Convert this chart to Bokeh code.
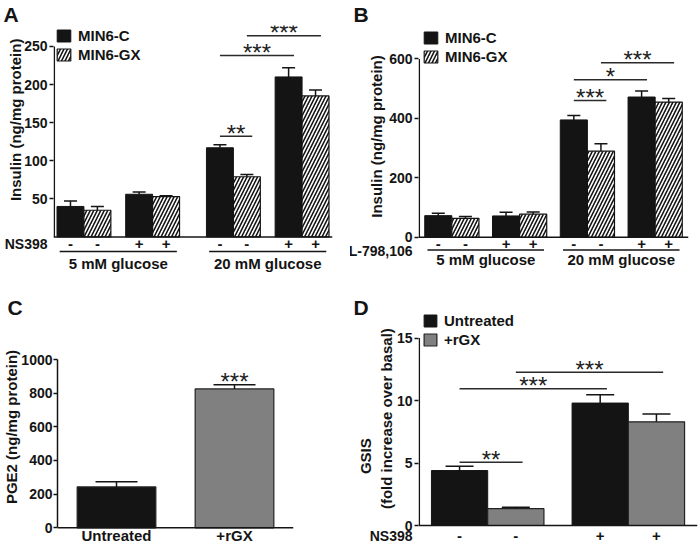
import math
from bokeh.plotting import figure
from bokeh.models import FactorRange, Range1d, FixedTicker, Span, Legend, LegendItem
from bokeh.layouts import row, column
from bokeh.core.properties import value
from bokeh.embed import file_html
from bokeh.resources import INLINE

FONT = "Liberation Sans"
INK = "#141414"
GREY = "#808080"
NBSP = "\u00a0"

# ---------------- data ----------------
# Panel A
A_glucose = ["5 mM glucose", "20 mM glucose"]
A_drug = ["-", "+"]
A_cells = ["MIN6-C", "MIN6-GX"]
A_c_mean = [40, 56, 117, 210]
A_c_sem = [7, 3, 4, 12]
A_gx_mean = [35, 53, 79, 185]
A_gx_sem = [5, 1, 3, 8]
A_ticks = [50, 100, 150, 200, 250]
A_sig_from = [4, 4, 5]
A_sig_to = [5, 6, 7]
A_sig_level = [132, 238, 264]
A_sig_text = ["**", "***", "***"]

# Panel B
B_glucose = ["5 mM glucose", "20 mM glucose"]
B_drug = ["-", "+"]
B_cells = ["MIN6-C", "MIN6-GX"]
B_c_mean = [73, 72, 395, 472]
B_c_sem = [8, 12, 15, 20]
B_gx_mean = [64, 78, 290, 455]
B_gx_sem = [6, 7, 25, 12]
B_ticks = [0, 200, 400, 600]
B_sig_from = [4, 4, 5]
B_sig_to = [5, 6, 7]
B_sig_level = [460, 530, 587]
B_sig_text = ["***", "*", "***"]

# Panel C
C_groups = ["Untreated", "+rGX"]
C_mean = [243, 825]
C_sem = [30, 25]
C_ticks = [0, 200, 400, 600, 800, 1000]
C_sig_text = ["", "***"]

# Panel D
D_drug = ["-", "+"]
D_treat = ["Untreated", "+rGX"]
D_untr_mean = [4.4, 9.8]
D_untr_sem = [0.35, 0.67]
D_rgx_mean = [1.35, 8.3]
D_rgx_sem = [0.12, 0.62]
D_ticks = [0, 5, 10, 15]
D_sig_from = [0, 0, 1]
D_sig_to = [1, 2, 3]
D_sig_level = [5.07, 10.95, 12.27]
D_sig_text = ["**", "***", "***"]


# ---------------- helpers ----------------
def synth(factors, group_pad, sub_pad=0.0, factor_pad=0.0):
    """Synthetic centre of every factor, same rule as Bokeh's FactorRange."""
    pos, prev, out = 0.0, None, []
    for f in factors:
        if prev is not None:
            if f[0] != prev[0]:
                pos += group_pad
            elif len(f) > 2 and f[1] != prev[1]:
                pos += sub_pad
            else:
                pos += factor_pad
        out.append(pos + 0.5)
        pos += 1.0
        prev = f
    return out, pos


def tkw(size="15px", bold=True, color=INK):
    return dict(text_font=value(FONT), text_font_size=size,
                text_font_style="bold" if bold else "normal", text_color=color)


STAR = dict(text_align="center", text_baseline="alphabetic", y_offset=-3,
            text_font=value(FONT), text_font_size="24px", text_font_style="normal",
            text_color="#222222")


def base_fig(w, h, xr, yr, mb, letter, letter_standoff=0):
    p = figure(width=w, height=h, x_range=xr, y_range=yr, title=letter,
               x_axis_location=None, output_backend="svg", toolbar_location=None,
               min_border_left=mb[0], min_border_right=mb[1],
               min_border_top=mb[2], min_border_bottom=mb[3])
    p.outline_line_color = None
    p.grid.grid_line_color = None
    p.background_fill_color = "white"
    t = p.title
    t.align = "left"
    t.offset = -(mb[0] - 3)
    t.standoff = letter_standoff
    t.text_font = FONT
    t.text_font_size = "21px"
    t.text_font_style = "bold"
    t.text_color = INK
    return p


def style_y(p, ticks, title, title_standoff, drug=None, drug_y=None, label_standoff=5):
    ax = p.yaxis[0]
    if drug is None:
        ax.ticker = FixedTicker(ticks=ticks)
        ax.bounds = (0, ticks[-1])
        ax.axis_line_width = 1.5
        ax.axis_line_color = INK
        ax.major_tick_line_width = 1.5
        ax.major_tick_line_color = INK
        ax.major_tick_out = 4
        ax.minor_tick_line_color = None
        ax.major_label_standoff = 1
    else:
        # the treatment name is one more label of the axis, below zero;
        # tick marks are drawn only at the real values (as minor ticks)
        ax.ticker = FixedTicker(ticks=[drug_y] + list(ticks), minor_ticks=list(ticks))
        ax.major_label_overrides = {drug_y: drug}
        ax.bounds = (drug_y, ticks[-1])
        ax.axis_line_color = None
        ax.major_tick_line_color = None
        ax.major_tick_out = 0
        ax.minor_tick_line_width = 1.5
        ax.minor_tick_line_color = INK
        ax.minor_tick_out = 4
        ax.minor_tick_in = 0
        ax.major_label_standoff = label_standoff
    ax.major_tick_in = 0
    ax.major_label_text_font = FONT
    ax.major_label_text_font_size = "14px"
    ax.major_label_text_font_style = "bold"
    ax.major_label_text_color = INK
    ax.axis_label = title
    ax.axis_label_standoff = title_standoff
    ax.axis_label_text_font = FONT
    ax.axis_label_text_font_size = "15px"
    ax.axis_label_text_font_style = "bold"
    ax.axis_label_text_color = INK


def axis_rule(p, total, rpad, frame_w, top):
    """vertical axis line from 0 to the top tick, just inside the frame edge"""
    ppu = frame_w / (total + 2 * rpad)
    xe = -rpad + 0.8 / ppu
    p.segment(x0=[xe], y0=[0], x1=[xe], y1=[top], line_color=INK, line_width=1.5)


def err_bars(p, xs, mean, sem, cap):
    tops = [m + s for m, s in zip(mean, sem)]
    p.segment(x0=xs, y0=mean, x1=xs, y1=tops, line_color=INK, line_width=1.5)
    p.scatter(x=xs, y=tops, marker="dash", size=cap, line_color=INK, line_width=1.5)


def sig_marks(p, centres, i_from, i_to, levels, texts, ext):
    x0 = [centres[i] for i in i_from]
    x1 = [centres[j] + ext for j in i_to]
    p.segment(x0=x0, y0=levels, x1=x1, y1=levels, line_color="#2a2a2a", line_width=1.5)
    mids = [(a + b) / 2 for a, b in zip(x0, x1)]
    p.text(x=mids, y=levels, text=texts, **STAR)


def legend(p, items, margin, gw=17, gh=15):
    leg = Legend(items=[LegendItem(label=t, renderers=[r]) for t, r in items],
                 location="top_left", margin=margin, padding=0, spacing=2,
                 glyph_width=gw, glyph_height=gh, label_height=17, label_standoff=6,
                 label_text_font=FONT, label_text_font_size="15px",
                 label_text_font_style="bold", label_text_color=INK,
                 border_line_color=None, background_fill_alpha=0)
    p.add_layout(leg)


def baseline(p):
    p.add_layout(Span(location=0, dimension="width", line_color=INK, line_width=1.5))


# ---------------- panels A and B ----------------
def insulin_panel(letter, glucose, drug, cells, c_mean, c_sem, gx_mean, gx_sem, ticks, sig,
                  drug_name, G):
    factors = [(g, d, c) for g in glucose for d in drug for c in cells]
    centres, total = synth(factors, G["gpad"], G["spad"])
    xr = FactorRange(factors=factors, group_padding=G["gpad"], subgroup_padding=G["spad"],
                     factor_padding=0.0, range_padding=G["rpad"],
                     range_padding_units="absolute")
    W, H = 350, 272
    p = base_fig(W, H, xr, Range1d(G["ylo"], G["yhi"]), G["mb"], letter)
    style_y(p, ticks, G["title"], G["tstand"], drug=drug_name, drug_y=G["drug_y"],
            label_standoff=G["lstand"])
    axis_rule(p, total, G["rpad"], W - G["mb"][0] - G["mb"][1], ticks[-1])

    c_f = [f for f in factors if f[2] == cells[0]]
    gx_f = [f for f in factors if f[2] == cells[1]]
    rc = p.vbar(x=c_f, top=c_mean, width=1.0, fill_color=INK, line_color=INK, line_width=1)
    rg = p.vbar(x=gx_f, top=gx_mean, width=1.0, fill_color="white", line_color=INK,
                line_width=1.2, hatch_pattern="/", hatch_color=INK, hatch_scale=7,
                hatch_weight=1.6)
    err_bars(p, c_f, c_mean, c_sem, 13)
    err_bars(p, gx_f, gx_mean, gx_sem, 13)
    baseline(p)
    sig_marks(p, centres, *sig, ext=0.2)

    p.text(x=factors, y=[G["sign_y"]] * len(factors), text=[f[1] for f in factors],
           text_align="center", text_baseline="middle", **tkw("15px"))
    n = len(drug) * len(cells)
    ux0, ux1, gx = [], [], []
    for k in range(len(glucose)):
        first, last = centres[k * n], centres[k * n + n - 1]
        ux0.append(first - 0.4)
        ux1.append(last + 0.4)
        gx.append((first + last) / 2)
    p.segment(x0=ux0, y0=[G["line_y"]] * len(glucose), x1=ux1, y1=[G["line_y"]] * len(glucose),
              line_color=INK, line_width=1.5)
    p.text(x=gx, y=[G["group_y"]] * len(glucose), text=glucose, text_align="center",
           text_baseline="middle", **tkw("15px"))
    legend(p, [(cells[0], rc), (cells[1], rg)], G["lmargin"])
    return p


INSULIN = "Insulin (ng/mg protein)"
GA = dict(gpad=1.0, spad=0.55, rpad=0.13, ylo=-46.7, yhi=277.5, mb=(53, 18, 24, 0),
          sign_y=-9.5, line_y=-19.3, group_y=-35.0, lmargin=2, drug_y=-9.5, lstand=2,
          title=NBSP * 14 + INSULIN, tstand=-22)
GB = dict(gpad=0.5, spad=0.5, rpad=0.23, ylo=-118.3, yhi=712.6, mb=(68, 12, 24, 0),
          sign_y=-21, line_y=-43, group_y=-76, lmargin=4, drug_y=-44.5, lstand=2,
          title=NBSP * 6 + INSULIN, tstand=-39)

pA = insulin_panel("A", A_glucose, A_drug, A_cells, A_c_mean, A_c_sem, A_gx_mean, A_gx_sem,
                   A_ticks, (A_sig_from, A_sig_to, A_sig_level, A_sig_text), "NS398", GA)
pB = insulin_panel("B", B_glucose, B_drug, B_cells, B_c_mean, B_c_sem, B_gx_mean, B_gx_sem,
                   B_ticks, (B_sig_from, B_sig_to, B_sig_level, B_sig_text), "L-798,106", GB)

# ---------------- panel C ----------------
xrC = FactorRange(factors=C_groups, factor_padding=0.5, range_padding=0.25,
                  range_padding_units="absolute")
pC = base_fig(350, 273, xrC, Range1d(-105, 1303), (53, 57, 36, 0), "C", letter_standoff=-21)
style_y(pC, C_ticks, "PGE2 (ng/mg protein)", -2)
pC.vbar(x=C_groups, top=C_mean, width=1.0, fill_color=[INK, GREY], line_color="#222222",
        line_width=1.2)
err_bars(pC, C_groups, C_mean, C_sem, 42)
baseline(pC)
pC.text(x=C_groups, y=[m + s for m, s in zip(C_mean, C_sem)], text=C_sig_text, **STAR)
pC.text(x=C_groups, y=[-45] * len(C_groups), text=C_groups, text_align="center",
        text_baseline="middle", **tkw("15px"))

# ---------------- panel D ----------------
D_factors = [(d, t) for d in D_drug for t in D_treat]
D_centres, D_total = synth(D_factors, 0.5)
xrD = FactorRange(factors=D_factors, group_padding=0.5, factor_padding=0.0,
                  range_padding=0.23, range_padding_units="absolute")
mbD = (68, 3, 36, 0)
pD = base_fig(350, 273, xrD, Range1d(-1.6, 17.37), mbD, "D", letter_standoff=-21)
style_y(pD, D_ticks, "GSIS" + NBSP * 14 + "\n" + NBSP * 4 + "(fold increase over basal)",
        -28, drug="NS398", drug_y=-0.8, label_standoff=2)
axis_rule(pD, D_total, 0.23, 350 - mbD[0] - mbD[1], D_ticks[-1])
u_f = [f for f in D_factors if f[1] == D_treat[0]]
r_f = [f for f in D_factors if f[1] == D_treat[1]]
ru = pD.vbar(x=u_f, top=D_untr_mean, width=1.0, fill_color=INK, line_color=INK, line_width=1)
rr = pD.vbar(x=r_f, top=D_rgx_mean, width=1.0, fill_color=GREY, line_color="#222222",
             line_width=1.2)
err_bars(pD, u_f, D_untr_mean, D_untr_sem, 28)
err_bars(pD, r_f, D_rgx_mean, D_rgx_sem, 28)
baseline(pD)
sig_marks(pD, D_centres, D_sig_from, D_sig_to, D_sig_level, D_sig_text, ext=0.12)
pD.text(x=D_factors, y=[-0.8] * len(D_factors), text=[f[0] for f in D_factors],
        text_align="center", text_baseline="middle", **tkw("15px"))
legend(pD, [(D_treat[0], ru), (D_treat[1], rr)], 4, gw=16, gh=15)

layout = column(row(pA, pB), row(pC, pD))
open("out.html", "w").write(file_html(layout, INLINE))
